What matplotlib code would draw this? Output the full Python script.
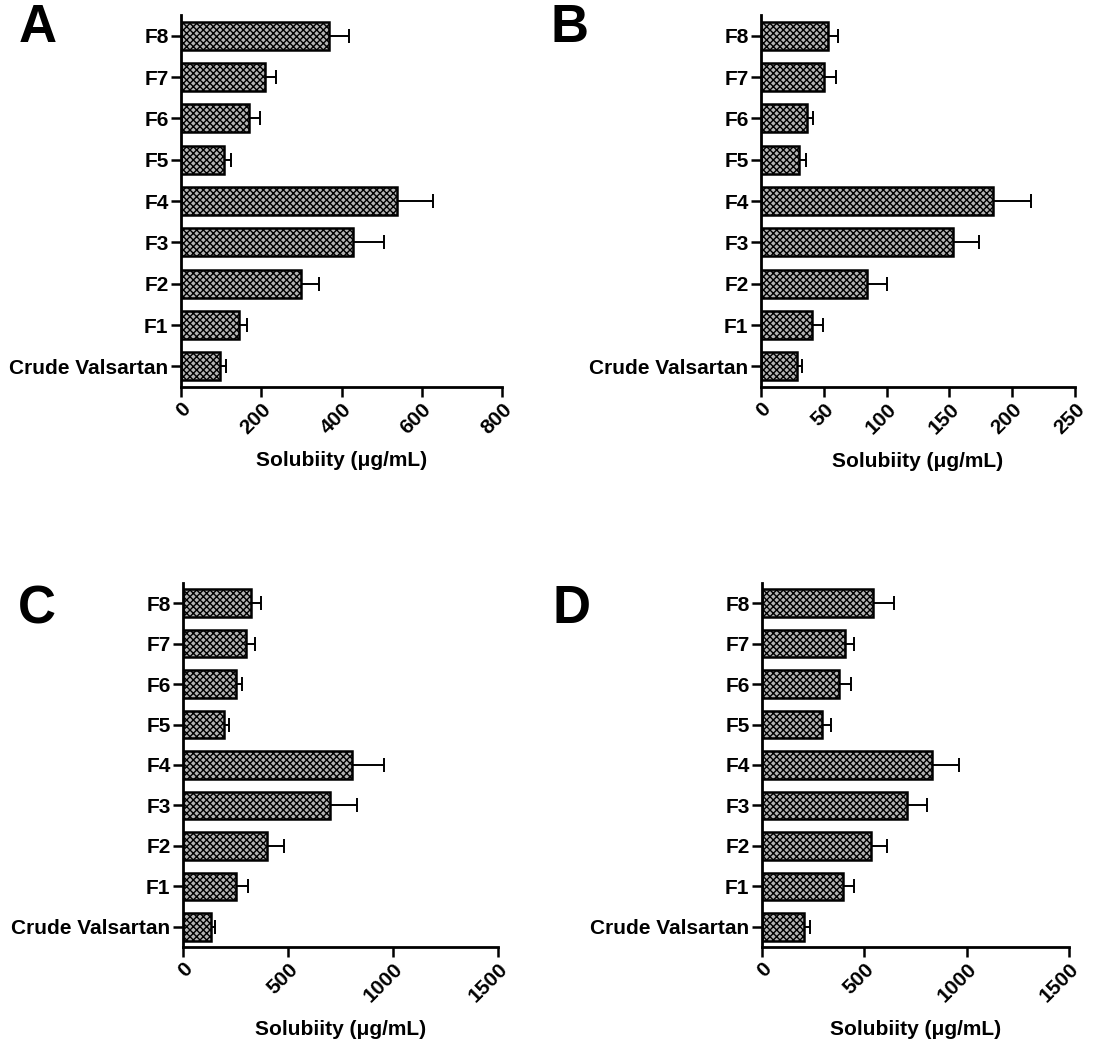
import matplotlib.pyplot as plt

plt.rcParams['font.family'] = ['Liberation Sans', 'DejaVu Sans']
plt.rcParams['font.weight'] = 'bold'
plt.rcParams['hatch.linewidth'] = 1.0
plt.rcParams['hatch.color'] = '#202020'

formulations = ["Crude Valsartan", "F1", "F2", "F3", "F4", "F5", "F6", "F7", "F8"]

# mean solubility and SD for each formulation, one pair per panel
sol_a = [97, 145, 298, 428, 538, 107, 170, 209, 369]
err_a = [15, 19, 47, 78, 91, 17, 27, 28, 50]
sol_b = [28.3, 41, 84, 152.7, 184.6, 30.5, 36.6, 49.8, 53.3]
err_b = [4, 8, 16.7, 21, 30.5, 5.5, 5, 9.6, 8]
sol_c = [132, 254, 402, 701, 804, 194, 254, 299, 322]
err_c = [20, 54, 79, 127, 151, 27, 29, 46, 49]
sol_d = [205, 394, 531, 707, 832, 291, 374, 406, 544]
err_d = [31, 57, 78, 100, 130, 45, 62, 45, 101]

xticks_a = [0, 200, 400, 600, 800]
xticks_b = [0, 50, 100, 150, 200, 250]
xticks_cd = [0, 500, 1000, 1500]

W, H = 1113, 1041
fig = plt.figure(figsize=(W / 100, H / 100), dpi=100)


def panel(box, letter, letter_xy, vals, errs, ticks):
    left, top, right, bottom = box
    ax = fig.add_axes([left / W, 1 - bottom / H, (right - left) / W, (bottom - top) / H])
    pos = range(len(formulations))
    ax.barh(pos, vals, height=0.68, color='#b4b4b4', edgecolor='black',
            linewidth=1.8, hatch='xxxxx', zorder=2)
    ax.errorbar(vals, pos, xerr=[[0] * len(errs), errs], fmt='none', ecolor='black',
                elinewidth=1.4, capsize=5, capthick=1.4, zorder=1)
    ax.set_xlim(ticks[0], ticks[-1])
    ax.set_ylim(-0.5, 8.5)
    ax.set_xticks(ticks)
    ax.set_yticks(list(pos))
    ax.set_yticklabels(formulations, fontsize=15, fontweight='bold')
    ax.set_xticklabels([str(t) for t in ticks], fontsize=15, fontweight='bold',
                       rotation=45, ha='right', va='top', rotation_mode='anchor')
    ax.tick_params(axis='both', direction='out', length=7, width=1.8, pad=2)
    for s in ['top', 'right']:
        ax.spines[s].set_visible(False)
    for s in ['left', 'bottom']:
        ax.spines[s].set_linewidth(2)
    ax.set_xlabel('Solubiity (\u03bcg/mL)', fontsize=15, fontweight='bold', labelpad=10)
    fig.text(letter_xy[0] / W, 1 - letter_xy[1] / H, letter, fontsize=38,
             fontweight='bold', ha='center', va='center')
    return ax


panel((181, 15, 502, 387), 'A', (38, 28), sol_a, err_a, xticks_a)
panel((761, 15, 1075, 387), 'B', (570, 28), sol_b, err_b, xticks_b)
panel((183, 583, 498, 947), 'C', (37, 609), sol_c, err_c, xticks_cd)
panel((762, 583, 1069, 947), 'D', (572, 609), sol_d, err_d, xticks_cd)

fig.savefig('out.png', dpi=100)
